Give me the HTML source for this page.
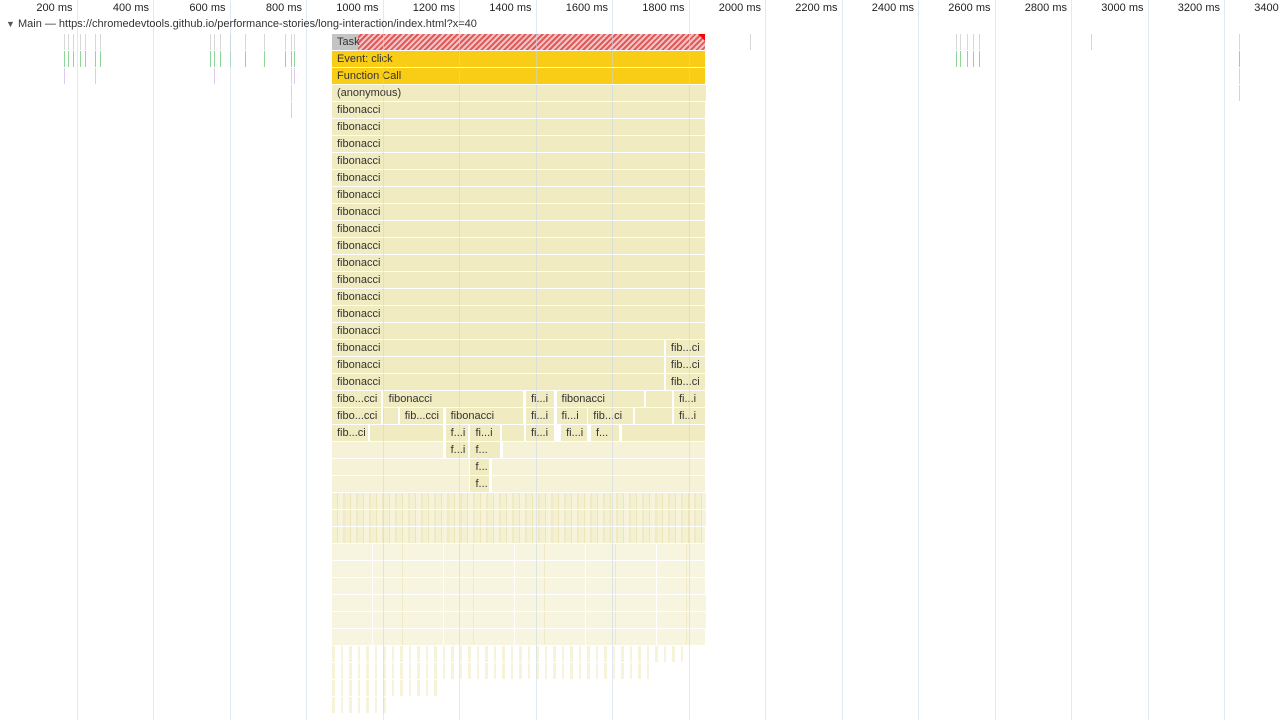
<!DOCTYPE html>
<html><head><meta charset="utf-8">
<style>
body{margin:0;width:1280px;height:720px;overflow:hidden;background:#fff;font-family:"Liberation Sans",sans-serif;}
#c{position:absolute;left:0;top:0;width:1280px;height:720px;}
.t{position:absolute;font-size:11px;color:#222;white-space:nowrap;}
.seg{position:absolute;height:16px;font-size:11px;line-height:16px;color:#333;overflow:hidden;white-space:nowrap;box-sizing:border-box;padding-left:5px;}
.g{position:absolute;top:0;width:1px;height:720px;background:rgba(200,215,232,0.55);}
</style></head><body>
<div id="c"></div>
<script>
// time ticks (ms)
const tickValues=[200,400,600,800,1000,1200,1400,1600,1800,2000,2200,2400,2600,2800,3000,3200,3400];
// labeled segments: [depth, startMs, endMs, label, kind]
const segDepth=[0,1,2,3];
const segments=[
[0,868,1846,'Task','task'],[1,868,1846,'Event: click','gold'],[2,868,1846,'Function Call','gold'],[3,868,1848,'(anonymous)','fib'],
[21,868,1000,'fibo...cci','fib'],[21,1003,1370,'fibonacci','fib'],[21,1375,1452,'fi...i','fib'],[21,1455,1685,'fibonacci','fib'],[21,1688,1760,'','fib'],[21,1762,1846,'fi...i','fib'],
[22,868,998,'fibo...cci','fib'],[22,1000,1043,'','fib'],[22,1045,1160,'fib...cci','fib'],[22,1165,1370,'fibonacci','fib'],[22,1375,1452,'fi...i','fib'],[22,1455,1536,'fi...i','fib'],[22,1538,1657,'fib...ci','fib'],[22,1660,1760,'','fib'],[22,1762,1846,'fi...i','fib'],
[23,868,965,'fib...ci','fib'],[23,968,1160,'','fib'],[23,1165,1225,'f...i','fib'],[23,1230,1310,'fi...i','fib'],[23,1313,1372,'','fib'],[23,1375,1452,'fi...i','fib'],[23,1467,1536,'fi...i','fib'],[23,1545,1620,'f...','fib'],[23,1625,1846,'','fib'],
[24,868,1160,'','pale'],[24,1165,1225,'f...i','fib'],[24,1230,1310,'f...','fib'],[24,1315,1846,'','pale'],
[25,868,1228,'','pale'],[25,1230,1280,'f...','fib'],[25,1285,1846,'','pale'],
[26,868,1228,'','pale'],[26,1230,1280,'f...','fib'],[26,1285,1846,'','pale']
];
// fill rows below: [depth, endMs]
const fillDepths=[27,28,29,30,31,32,33,34,35,36,37,38,39];
const fillEnds=[1848,1848,1846,1846,1846,1846,1848,1848,1846,1800,1700,1150,1020];
// small tasks before/after: [startMs,endMs,depthCount]
const smallTasks=[[168,172,3],[178,182,2],[190,194,2],[210,214,2],[222,226,2],[248,252,3],[262,266,2],[548,552,2],[560,564,3],[575,579,2],[600,604,2],[640,644,2],[690,694,2],[745,749,2],[760,764,5],[768,772,3],[1960,1964,1],[2500,2504,2],[2510,2514,2],[2528,2532,2],[2545,2549,2],[2560,2564,2],[2852,2856,1],[3240,3244,4]];
const X=ms=>ms*0.3825, ROW0=34, RH=17;
const c=document.getElementById('c');
const col={task:'#c4c4c4',gold:'#f9cc16',fib:'#f0ebc0',pale:'#f6f2d8'};
function seg(d,s,e,label,kind,name){
 const el=document.createElement('div');el.className='seg';
 
 
 el.style.left=X(s)+'px';el.style.top=(ROW0+d*RH)+'px';el.style.width=Math.max(1,X(e)-X(s)-1)+'px';
 el.style.background=col[kind];el.textContent=label;c.appendChild(el);return el;}
const tk=seg(0,868,1846,'Task','task','task-bar');
tk.style.background='linear-gradient(90deg,#c4c4c4 0,#c4c4c4 26px,transparent 26px),repeating-linear-gradient(135deg,#e05a5a 0 2px,#f3c4c4 2px 4px)';
const tri=document.createElement('div');


tri.style.cssText='position:absolute;right:0;top:0;width:0;height:0;border-left:7px solid transparent;border-top:7px solid red;';tk.appendChild(tri);
segments.slice(1).forEach(s=>seg(s[0],s[1],s[2],s[3],s[4],'flame-entry'));
for(let d=4;d<=20;d++){
 if(d>=18){seg(d,868,1738,'fibonacci','fib','fibonacci-entry');seg(d,1741,1846,'fib...ci','fib','fibonacci-entry');}
 else seg(d,868,1846,'fibonacci','fib','fibonacci-entry');
}
fillDepths.forEach((d,i)=>{const el=seg(d,868,fillEnds[i],'','pale','flame-fill-row');
 el.style.background=i<3?'repeating-linear-gradient(90deg,#f4f0d2 0 5px,#ece5b8 5px 6px,#f6f3da 6px 11px,#efe9c4 11px 13px)':
  i<9?'repeating-linear-gradient(90deg,#f7f4df 0 40px,#fff 40px 41px,#f7f4df 41px 70px,#efe9c6 70px 71px)':
  'repeating-linear-gradient(90deg,#f6f3d9 0 3px,#fff 3px 9px,#f7f4de 9px 11px,#fff 11px 17px)';});
smallTasks.forEach(t=>{for(let k=0;k<t[2];k++){const el=document.createElement('div');
 
 
 el.style.cssText='position:absolute;width:1px;height:16px;left:'+X(t[0])+'px;top:'+(ROW0+k*RH)+'px;background:'+(k==0?'#d8d8d8':k==1?'#8fd69b':'#e0c8f0');c.appendChild(el);}});
tickValues.forEach(v=>{const g=document.createElement('div');g.className='g';
 
 
 g.style.left=X(v)+'px';c.appendChild(g);
 const t=document.createElement('div');t.className='t';
 
 
 t.textContent=v+' ms';t.style.top='2px';t.style.right=(1280-X(v)+4)+'px';c.appendChild(t);});
</script>
<div class="t" style="left:6px;top:18px;color:#333"><span style="font-size:9px;color:#555">▼</span> Main — https://chromedevtools.github.io/performance-stories/long-interaction/index.html?x=40</div>
</body></html>
